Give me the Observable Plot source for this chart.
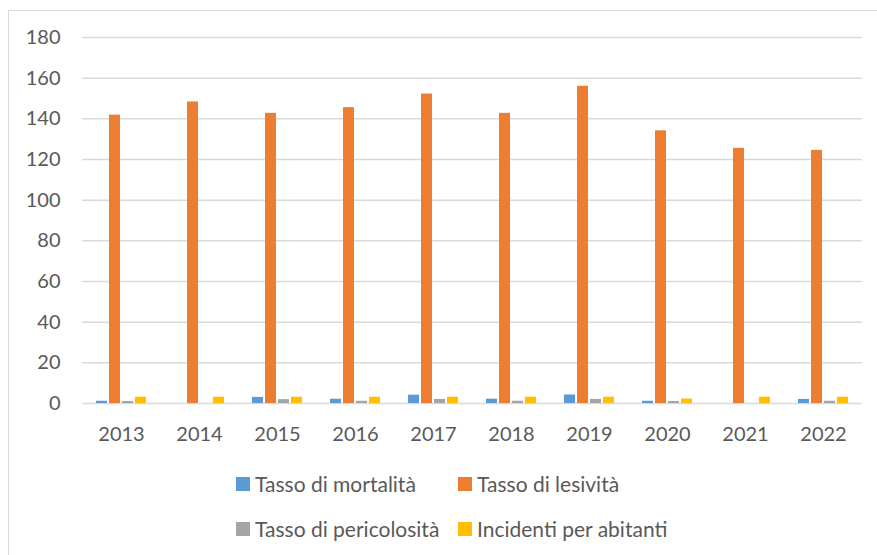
<!DOCTYPE html>
<html>
<head>
<meta charset="utf-8">
<script src="https://cdn.jsdelivr.net/npm/d3@7"></script>
<script src="https://cdn.jsdelivr.net/npm/@observablehq/plot@0.6"></script>
<style>
  html, body { margin: 0; padding: 0; background: #fff; width: 877px; height: 555px; overflow: hidden; }
  #frame { position: absolute; left: 8px; top: 10px; width: 900px; height: 600px; border: 1px solid #d9d9d9; box-sizing: border-box; }
  #chart { position: absolute; left: 0; top: 0; }
  #legend { position: absolute; left: 236px; top: 471px; display: grid; grid-template-columns: 222px auto; row-gap: 20px;
            font-family: Lato, "Open Sans", sans-serif; font-size: 21px; color: #595959; }
  .item { display: flex; align-items: center; height: 25px; white-space: nowrap; }
  .sw { width: 14px; height: 14px; margin-right: 5px; flex: none; }
</style>
</head>
<body>
<div id="frame"></div>
<div id="chart"></div>
<div id="legend"></div>
<script>
const years = ["2013","2014","2015","2016","2017","2018","2019","2020","2021","2022"];
const seriesNames = ["Tasso di mortalità","Tasso di lesività","Tasso di pericolosità","Incidenti per abitanti"];
const seriesColors = ["#5B9BD5","#ED7D31","#A5A5A5","#FFC000"];
const mortalita    = [1.1, 0, 3.0, 2.1, 4.1, 2.1, 4.2, 1.1, 0, 2.0];
const lesivita     = [141.8, 148.3, 142.7, 145.5, 152.2, 142.7, 156.0, 134.1, 125.5, 124.5];
const pericolosita = [1.0, 0, 1.9, 1.1, 2.0, 1.1, 2.0, 1.0, 0, 1.1];
const incidenti    = [3.1, 3.1, 3.1, 3.1, 3.1, 3.1, 3.1, 2.2, 3.1, 3.1];
const yTicks = [0,20,40,60,80,100,120,140,160,180];

const seriesValues = [mortalita, lesivita, pericolosita, incidenti];
const data = [];
years.forEach((yr, i) => {
  seriesNames.forEach((s, j) => {
    data.push({year: yr, series: s, value: seriesValues[j][i]});
  });
});

const chart = Plot.plot({
  width: 877,
  height: 460,
  marginLeft: 82,
  marginRight: 15,
  marginTop: 37,
  marginBottom: 57,
  style: {fontFamily: "Lato, 'Open Sans', sans-serif", fontSize: "20px", color: "#595959", background: "transparent"},
  fx: {domain: years, paddingInner: 0, paddingOuter: 0, tickSize: 0, tickPadding: 23, label: null, axis: "bottom"},
  x: {domain: seriesNames, paddingInner: 0.14, paddingOuter: 0.86, axis: null},
  y: {domain: [0, 180], ticks: yTicks, tickSize: 0, tickPadding: 22, label: null},
  color: {domain: seriesNames, range: seriesColors},
  marks: [
    Plot.ruleY(yTicks, {stroke: "#d9d9d9", strokeWidth: 1.5}),
    Plot.barY(data, {fx: "year", x: "series", y: "value", fill: "series"})
  ]
});
document.getElementById("chart").appendChild(chart);

const legend = document.getElementById("legend");
seriesNames.forEach((s, j) => {
  const it = document.createElement("div");
  it.className = "item";
  const sw = document.createElement("span");
  sw.className = "sw";
  sw.style.background = seriesColors[j];
  const tx = document.createElement("span");
  tx.textContent = s;
  it.appendChild(sw); it.appendChild(tx);
  legend.appendChild(it);
});
</script>
</body>
</html>
